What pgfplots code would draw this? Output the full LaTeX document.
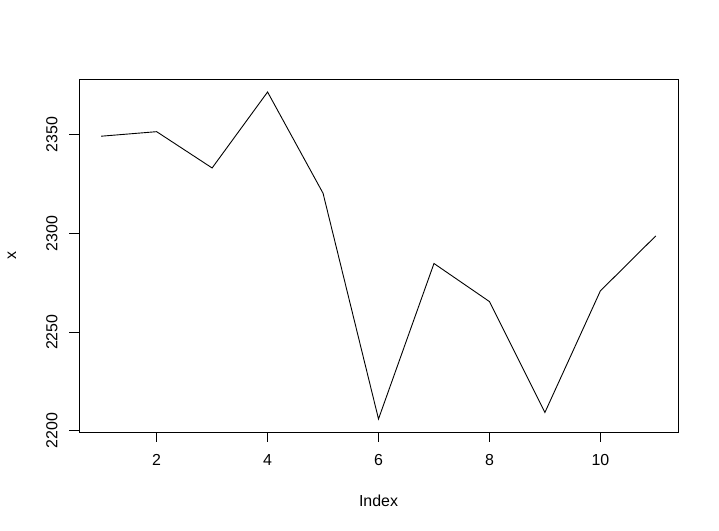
\documentclass[border=0pt]{standalone}
\usepackage{fontspec}
\setmainfont{Liberation Sans}
\usepackage{pgfplots}
\pgfplotsset{compat=1.18}
\begin{document}
\begin{tikzpicture}[x=1bp,y=1bp]
\useasboundingbox (0,0) rectangle (719,531);
\begin{axis}[
  at={(79bp,99bp)}, anchor=south west,
  scale only axis, width=599bp, height=353bp,
  xmin=0.6, xmax=11.4, ymin=2199.4, ymax=2378.3,
  xtick={2,4,6,8,10}, ytick={2200,2250,2300,2350},
  xtick pos=left, ytick pos=left,
  tick align=outside, major tick length=10bp,
  tick style={black, line width=0.9bp},
  axis line style={black, line width=0.9bp},
  /pgf/number format/assume math mode=true,
  /pgf/number format/1000 sep={},
  scaled y ticks=false,
  tick label style={font=\fontsize{16}{19}\selectfont},
  xticklabel style={anchor=center, yshift=-18bp},
  yticklabel style={rotate=90, anchor=center, yshift=17bp},
  label style={font=\fontsize{16}{19}\selectfont},
  xlabel={Index}, ylabel={x},
  xlabel style={at={(axis description cs:0.5,-0.1955)}, anchor=center},
  ylabel style={at={(axis description cs:-0.1119,0.5)}, anchor=center, rotate=0},
]
\addplot[black, line width=0.9bp, mark=none] coordinates {
(1,2349.3) (2,2351.6) (3,2333.2) (4,2371.7) (5,2320.4) (6,2206.0)
(7,2284.8) (8,2265.5) (9,2209.3) (10,2270.9) (11,2298.8)};
\end{axis}
\end{tikzpicture}
\end{document}
